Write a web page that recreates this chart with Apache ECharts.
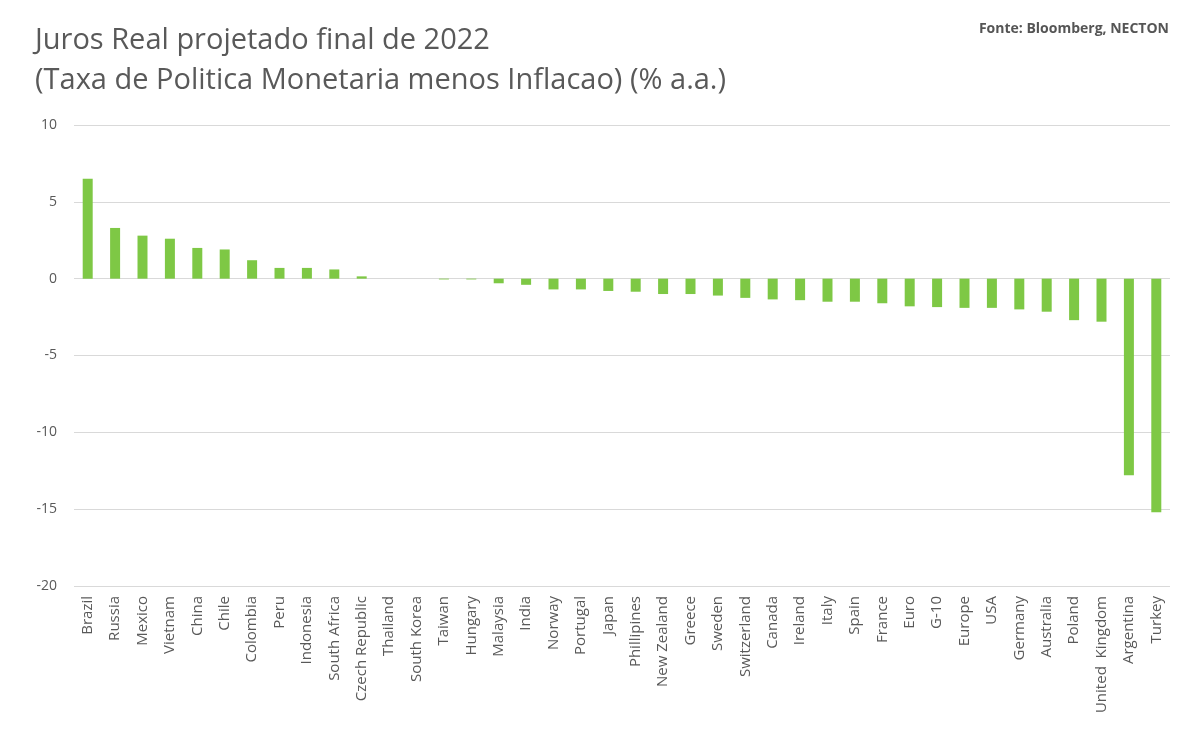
<!DOCTYPE html>
<html>
<head>
<meta charset="utf-8">
<script src="https://cdn.jsdelivr.net/npm/echarts@6/dist/echarts.min.js"></script>
<style>
  html, body { margin: 0; padding: 0; background: #fff; }
  #chart { width: 1186px; height: 738px; }
</style>
</head>
<body>
<div id="chart"></div>
<script type="text/javascript">
    // paises e juro real projetado (% a.a.)
    var paises = ['Brazil', 'Russia', 'Mexico', 'Vietnam', 'China', 'Chile', 'Colombia', 'Peru',
        'Indonesia', 'South Africa', 'Czech Republic', 'Thailand', 'South Korea', 'Taiwan', 'Hungary',
        'Malaysia', 'India', 'Norway', 'Portugal', 'Japan', 'Phillipines', 'New Zealand', 'Greece',
        'Sweden', 'Switzerland', 'Canada', 'Ireland', 'Italy', 'Spain', 'France', 'Euro', 'G-10',
        'Europe', 'USA', 'Germany', 'Australia', 'Poland', 'United  Kingdom', 'Argentina', 'Turkey'];
    var juroReal = [6.5, 3.3, 2.8, 2.6, 2.0, 1.9, 1.2, 0.7,
        0.7, 0.6, 0.15, 0, 0, -0.05, -0.05,
        -0.3, -0.4, -0.7, -0.7, -0.8, -0.85, -1.0, -1.0,
        -1.1, -1.25, -1.35, -1.4, -1.5, -1.5, -1.6, -1.8, -1.85,
        -1.9, -1.9, -2.0, -2.15, -2.7, -2.8, -12.8, -15.2];
    var eixoY = { min: -20, max: 10, intervalo: 5 };

    var myChart = echarts.init(document.getElementById('chart'), null, { renderer: 'canvas' });

    var option = {
        backgroundColor: '#ffffff',
        animation: false,
        title: [
            {
                text: 'Juros Real projetado final de 2022\n(Taxa de Politica Monetaria menos Inflacao) (% a.a.)',
                left: 30,
                top: 16,
                textStyle: {
                    fontFamily: 'Open Sans',
                    fontWeight: 'normal',
                    fontSize: 29,
                    lineHeight: 40,
                    color: '#595959'
                }
            },
            {
                text: 'Fonte: Bloomberg, NECTON',
                right: 12,
                top: 17,
                textStyle: {
                    fontFamily: 'Open Sans',
                    fontWeight: 'bold',
                    fontSize: 14,
                    color: '#555555'
                }
            }
        ],
        grid: {
            left: 74,
            right: 16,
            top: 125,
            bottom: 152
        },
        xAxis: {
            type: 'category',
            data: paises,
            position: 'bottom',
            axisLine: { show: false },
            axisTick: { show: false },
            axisLabel: {
                interval: 0,
                rotate: 90,
                margin: 10,
                fontFamily: 'Open Sans',
                fontSize: 15,
                color: '#595959'
            }
        },
        yAxis: {
            type: 'value',
            min: eixoY.min,
            max: eixoY.max,
            interval: eixoY.intervalo,
            axisLine: { show: false },
            axisTick: { show: false },
            axisLabel: {
                margin: 17,
                fontFamily: 'Open Sans',
                fontSize: 14,
                color: '#595959'
            },
            splitLine: {
                lineStyle: { color: '#d9d9d9', width: 1 }
            }
        },
        series: [
            {
                type: 'bar',
                data: juroReal,
                barWidth: 10,
                itemStyle: { color: '#7ec845' }
            }
        ]
    };

    myChart.setOption(option);
</script>
</body>
</html>
